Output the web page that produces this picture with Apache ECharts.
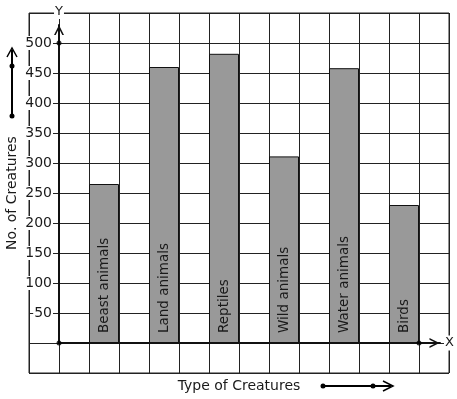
<!DOCTYPE html>
<html>
<head>
<meta charset="utf-8">
<script src="https://cdn.jsdelivr.net/npm/echarts@6/dist/echarts.min.js"></script>
<style>
  html, body { margin: 0; padding: 0; background: #fff; }
  #chart { width: 457px; height: 399px; }
</style>
</head>
<body>
<div id="chart"></div>
<script>
  // data
  var creatures = ['Beast animals', 'Land animals', 'Reptiles', 'Wild animals', 'Water animals', 'Birds'];
  var counts = [265, 460, 482, 311, 458, 230];
  var yTicks = [50, 100, 150, 200, 250, 300, 350, 400, 450, 500];
  var axisDots = [[0, 0], [0, 500], [12, 0]];

  // 14 grid columns, bars sit in every second one starting at column 2
  var slots = [];
  var slotValues = [];
  for (var i = 0; i < 14; i++) { slots.push('s' + i); slotValues.push('-'); }
  for (var k = 0; k < creatures.length; k++) {
    slots[2 + 2 * k] = creatures[k];
    slotValues[2 + 2 * k] = counts[k];
  }

  var font = 'DejaVu Sans';
  var ink = '#1a1a1a';
  var chevron = 'path://M0,10 L5,0 L10,10 L8.3,10 L5,3.4 L1.7,10 Z';

  var myChart = echarts.init(document.getElementById('chart'));

  var option = {
    animation: false,
    backgroundColor: '#fff',
    textStyle: { fontFamily: font },
    grid: [
      { left: 29, top: 13, width: 420, height: 360, show: true, borderColor: '#222', borderWidth: 1,
        containLabel: false, outerBoundsMode: 'none' },
      { left: 59, top: 25, width: 381, height: 318, containLabel: false, outerBoundsMode: 'none' }
    ],
    xAxis: [
      {
        type: 'category', gridIndex: 0, data: slots,
        axisLine: { show: false, onZero: false },
        axisTick: { show: false, interval: 0 }, axisLabel: { show: false, interval: 0 },
        splitLine: { show: true, interval: 0, lineStyle: { color: '#222', width: 1 } },
        name: 'Type of Creatures', nameLocation: 'middle', nameGap: 6,
        nameTextStyle: { fontFamily: font, fontSize: 14, color: ink, verticalAlign: 'top' }
      },
      {
        type: 'value', gridIndex: 1, min: 0, max: 12.7, z: 3,
        axisLine: { show: true, lineStyle: { color: '#111', width: 2 },
          symbol: ['none', chevron], symbolSize: [10, 11], symbolOffset: [0, -5.5] },
        axisTick: { show: false }, axisLabel: { show: false }, splitLine: { show: false },
        name: 'X', nameLocation: 'end', nameGap: 4,
        nameTextStyle: { fontFamily: font, fontSize: 13, color: ink, backgroundColor: '#fff', padding: [1, 1] }
      }
    ],
    yAxis: [
      {
        type: 'value', gridIndex: 0, min: -50, max: 550, interval: 50,
        axisLine: { show: false }, axisTick: { show: false }, axisLabel: { show: false },
        splitLine: { show: true, lineStyle: { color: '#222', width: 1 } },
        name: 'No. of Creatures', nameLocation: 'middle', nameRotate: 90, nameGap: 10,
        nameTextStyle: { fontFamily: font, fontSize: 14, color: ink }
      },
      {
        type: 'value', gridIndex: 1, min: 0, max: 530, interval: 50, z: 3,
        axisLine: { show: true, lineStyle: { color: '#111', width: 2 },
          symbol: ['none', chevron], symbolSize: [10, 10], symbolOffset: [0, -5] },
        axisTick: { show: false }, splitLine: { show: false },
        axisLabel: {
          show: true, margin: 6, fontFamily: font, fontSize: 14, color: ink,
          backgroundColor: '#fff', padding: [0, 1], showMaxLabel: false,
          formatter: function (v) { return yTicks.indexOf(v) >= 0 ? String(v) : ''; }
        },
        name: 'Y', nameLocation: 'end', nameGap: 6,
        nameTextStyle: { fontFamily: font, fontSize: 13, color: ink, backgroundColor: '#fff', padding: [1, 1] }
      }
    ],
    series: [
      {
        type: 'bar', xAxisIndex: 0, yAxisIndex: 0,
        data: slotValues, barWidth: '100%',
        itemStyle: { color: '#999999', borderColor: '#111', borderWidth: 1 },
        label: {
          show: true, position: 'insideBottom', distance: 10, rotate: 90,
          align: 'left', verticalAlign: 'middle',
          formatter: '{b}', fontFamily: font, fontSize: 13.5, color: ink
        }
      },
      {
        type: 'scatter', xAxisIndex: 1, yAxisIndex: 1, z: 5,
        data: axisDots, symbolSize: 5, itemStyle: { color: '#000' }
      }
    ],
    graphic: [
      // little arrow beside the y-axis title
      { type: 'line', shape: { x1: 12, y1: 116, x2: 12, y2: 50 }, style: { stroke: '#000', lineWidth: 2 } },
      { type: 'polyline', shape: { points: [[7, 57], [12, 48], [17, 57]] }, style: { stroke: '#000', lineWidth: 1.5, fill: null } },
      { type: 'circle', shape: { cx: 12, cy: 116, r: 2.5 }, style: { fill: '#000' } },
      { type: 'circle', shape: { cx: 12, cy: 66, r: 2.5 }, style: { fill: '#000' } },
      // little arrow beside the x-axis title
      { type: 'line', shape: { x1: 323, y1: 386, x2: 391, y2: 386 }, style: { stroke: '#000', lineWidth: 2 } },
      { type: 'polyline', shape: { points: [[383, 381], [393, 386], [383, 391]] }, style: { stroke: '#000', lineWidth: 1.5, fill: null } },
      { type: 'circle', shape: { cx: 323, cy: 386, r: 2.5 }, style: { fill: '#000' } },
      { type: 'circle', shape: { cx: 373, cy: 386, r: 2.5 }, style: { fill: '#000' } }
    ]
  };

  myChart.setOption(option);
</script>
</body>
</html>
